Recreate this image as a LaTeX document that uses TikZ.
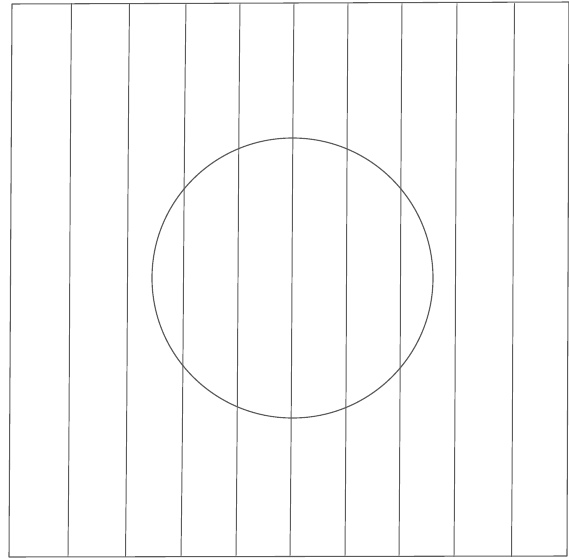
\documentclass[tikz,border=0pt]{standalone}
\usepackage{tikz}
\usetikzlibrary{calc}
\definecolor{mInk}{HTML}{5A5A5A}

\begin{document}
\begin{tikzpicture}[x=0.02cm, y=-0.02cm,
  fieldline/.style={line width=0.55pt, mInk, line cap=round},
  frame/.style={line width=0.6pt, mInk, line join=round},
  sphere/.style={line width=0.65pt, mInk}]
  \useasboundingbox (0,0) rectangle (569,558);
  % frame
  \draw[frame] (12,4) -- (569,2) -- (567,556) -- (9,557) -- cycle;
  % field lines, top x / bottom x
  \foreach \xt/\xb in {71.5/68, 129.5/125.5, 186/181, 240/236, 294/290,
                       348/345, 402/399, 457/454, 514.5/511.5}
    \draw[fieldline] (\xt,3.5) .. controls ($(\xt,190)!0.5!(\xb,190)$) and ($(\xt,370)!0.5!(\xb,370)$) .. (\xb,556.5);
  % sphere
  \coordinate (c) at (292.5,278);
  \draw[sphere] (c) circle[x radius=140.5, y radius=-140];
\end{tikzpicture}
\end{document}
